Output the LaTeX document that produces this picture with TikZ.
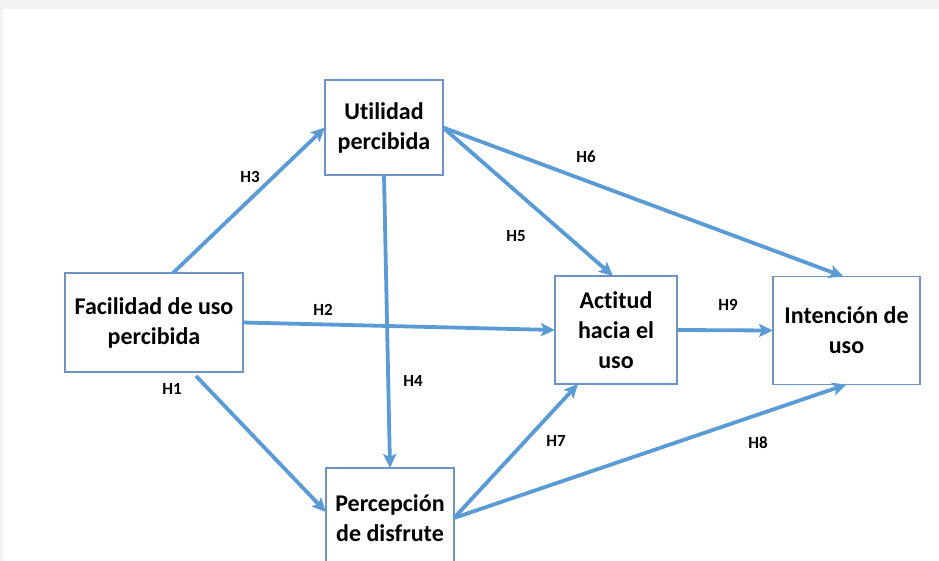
\documentclass[tikz,border=0pt]{standalone}
\usepackage{fontspec}
\setmainfont{Carlito}[Ligatures=NoCommon]
\usepackage{tikz}
\usetikzlibrary{arrows.meta,
                positioning}
\definecolor{arrowblue}{HTML}{5B9BD5}
\definecolor{boxblue}{HTML}{6F93C2}
\definecolor{pagegrey}{HTML}{F3F3F3}

\begin{document}
\begin{tikzpicture}[x=1pt, y=-1pt,
  BOX/.style = {draw=boxblue, line width=1.3pt, fill=white,
                align=center, inner sep=0pt, outer sep=0pt,
                font=\fontsize{24}{30}\selectfont\bfseries},
   AR/.style = {draw=arrowblue, line width=3.8pt,
                -{Stealth[length=14pt, width=13pt, inset=3pt]}},
   HL/.style = {font=\fontsize{17}{20}\selectfont\bfseries,
                inner sep=0pt}
                    ]
% page
\fill[pagegrey] (0,0) rectangle (939,561);
\fill[white] (3,9) rectangle (939,561);
\clip (0,0) rectangle (939,561);
% boxes
\node (util)  [BOX, minimum width=118pt, minimum height=95pt]
              at (384,127.5) {Utilidad\\ percibida};
\node (facil) [BOX, minimum width=178pt, minimum height=99pt]
              at (154,322.5) {Facilidad de uso\\ percibida};
\node (acti)  [BOX, minimum width=122pt, minimum height=108pt]
              at (616,330) {Actitud\\ hacia el\\ uso};
\node (inten) [BOX, minimum width=147pt, minimum height=108pt]
              at (846.5,330.5) {Intención de\\ uso};
\node (perc)  [BOX, minimum width=128pt, minimum height=100pt]
              at (390,518) {Percepción\\ de disfrute};
% hypotheses
\draw[AR] ([xshift=19pt]facil.north) -- (util.west);
\draw[AR] (facil.east) -- (acti.west);
\draw[AR] ([xshift=42pt,yshift=-4pt]facil.south) -- ([yshift=6pt]perc.west);
\draw[AR] (util.south) -- (perc.north);
\draw[AR] (util.east) -- ([xshift=-3pt]acti.north);
\draw[AR] (util.east) -- ([xshift=-3pt]inten.north);
\draw[AR] (acti.east) -- (inten.west);
\draw[AR] (perc.east) -- ([xshift=-38pt]acti.south);
\draw[AR] (perc.east) -- (inten.south);
% labels
\node (h1) [HL] at (172,389) {H1};
\node (h2) [HL] at (323,310) {H2};
\node (h3) [HL] at (250,177) {H3};
\node (h4) [HL] at (413,381) {H4};
\node (h5) [HL] at (516,236) {H5};
\node (h6) [HL] at (586,157) {H6};
\node (h7) [HL] at (556,441) {H7};
\node (h8) [HL] at (758,443) {H8};
\node (h9) [HL] at (728,305) {H9};
\end{tikzpicture}
\end{document}
